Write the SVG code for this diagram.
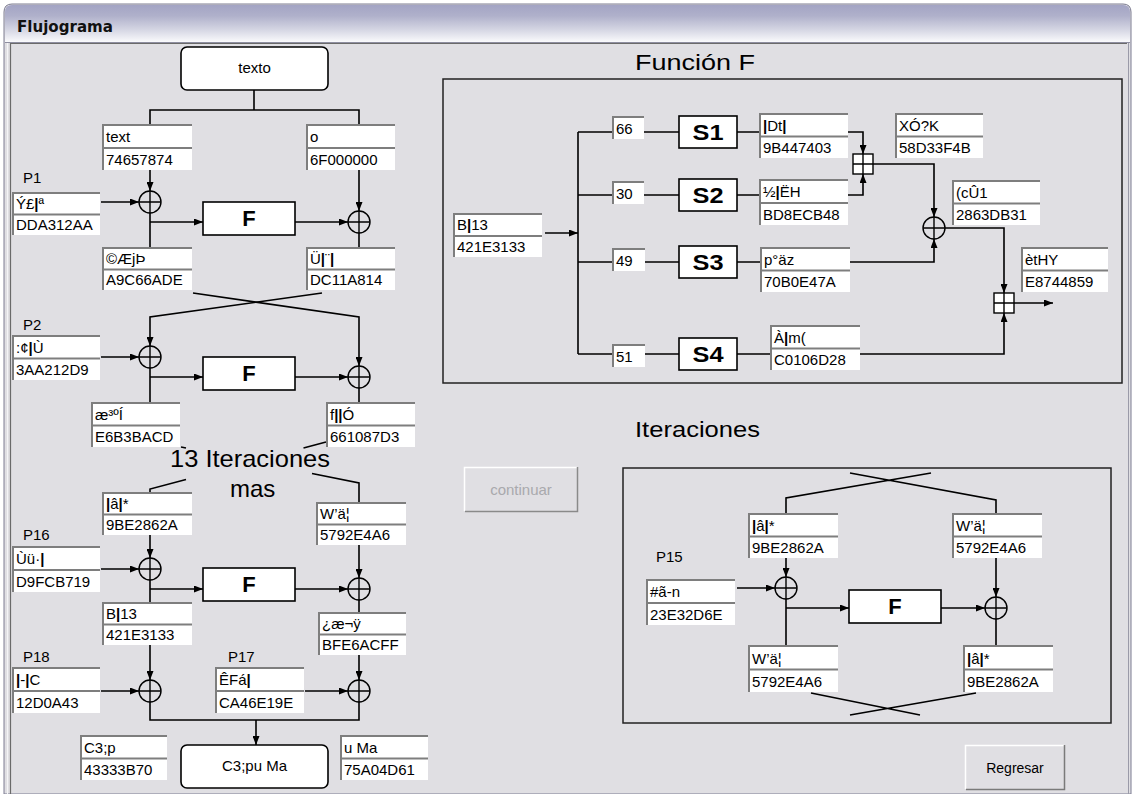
<svg xmlns="http://www.w3.org/2000/svg" width="1133" height="794" viewBox="0 0 1133 794">
<defs>
<style>
.t{font-family:"Liberation Sans",Arial,sans-serif;font-size:15px;fill:#000}
.k{font-weight:bold}
.big{font-family:"Liberation Sans",Arial,sans-serif;font-size:22px;fill:#000}
.fb{font-family:"Liberation Sans",Arial,sans-serif;font-size:22px;font-weight:bold;fill:#000;text-anchor:middle}
.mid{text-anchor:middle}
.tb{fill:#fff}
.tbe{fill:none;stroke:#7e7e7e;stroke-width:2}
.box{fill:#fff;stroke:#000;stroke-width:1.6}
.ln{fill:none;stroke:#000;stroke-width:1.6}
.a{marker-end:url(#ah)}
.pnl{fill:none;stroke:#222;stroke-width:1.5}
.sym{fill:none;stroke:#000;stroke-width:1.4}
</style>
<linearGradient id="tg" x1="0" y1="0" x2="0" y2="1">
<stop offset="0" stop-color="#a3a4c4"/>
<stop offset="0.3" stop-color="#b0b1cb"/>
<stop offset="0.65" stop-color="#d3d4e2"/>
<stop offset="1" stop-color="#fafafc"/>
</linearGradient>
<marker id="ah" viewBox="0 0 9 7" refX="9" refY="3.5" markerWidth="9" markerHeight="7" markerUnits="userSpaceOnUse" orient="auto">
<path d="M0,0L9,3.5L0,7z" fill="#000"/>
</marker>
<g id="xor"><circle r="11" fill="none" stroke="#000" stroke-width="1.4"/><path d="M-11,0H11M0,-11V11" stroke="#000" stroke-width="1.4"/></g>
<g id="add"><rect x="-10" y="-10" width="20" height="20" fill="#fff" stroke="#000" stroke-width="1.4"/><path d="M-10,0H10M0,-10V10" stroke="#000" stroke-width="1.4"/></g>
</defs>

<!-- window -->
<g id="window">
<rect x="0" y="0" width="1133" height="794" fill="#ffffff"/>
<path d="M4,794V12Q4,4 12,4H1123Q1131,4 1131,12V794Z" fill="#e0dfe3" stroke="#7d7d92" stroke-width="1"/>
<path d="M5,42V12Q5,5 12,5H1123Q1130,5 1130,12V42Z" fill="url(#tg)"/>
<path d="M5,42.5H1130" stroke="#8e8ea0" stroke-width="1"/>
<path d="M10.5,794V43.5H1127" fill="none" stroke="#6a6a6a" stroke-width="1.2"/>
<path d="M7.5,43V794" stroke="#f4f4f6" stroke-width="1"/>
<path d="M1128.5,43V794" stroke="#9a9aa8" stroke-width="1"/>
<text x="17" y="32" font-family="DejaVu Sans,Verdana,sans-serif" font-size="15" font-weight="bold" fill="#111" textLength="96" lengthAdjust="spacingAndGlyphs">Flujograma</text>
</g>

<!-- panels and titles -->
<g id="funcionF-panel">
<text class="big" x="635" y="70" textLength="120" lengthAdjust="spacingAndGlyphs">Función F</text>
<rect class="pnl" x="443" y="79" width="679" height="304"/>
</g>
<g id="iteraciones-panel">
<text class="big" x="635" y="437" textLength="125" lengthAdjust="spacingAndGlyphs">Iteraciones</text>
<rect class="pnl" x="623" y="468" width="488" height="255"/>
</g>

<!-- connectors -->
<g id="connectors">
<path class="ln" d="M254,90V110M150,124V110H359V124"/>
<path class="ln a" d="M150,170V191"/>
<path class="ln a" d="M101,202H139"/>
<path class="ln a" d="M150,222H203"/>
<path class="ln a" d="M295,222H348"/>
<path class="ln a" d="M359,170V211"/>
<path class="ln" d="M150,213V247M359,233V247"/>
<path class="ln a" d="M193,293L359,317V366"/>
<path class="ln a" d="M322,293L150,317V346"/>
<path class="ln a" d="M101,357H139"/>
<path class="ln" d="M150,368V402M359,388V402"/>
<path class="ln a" d="M150,377H203"/>
<path class="ln a" d="M295,377H348"/>
<path class="ln" d="M181,447L186,448M312,473.5L359,483V502M326,442L303.5,448M186,479.4L150,489V492"/>
<path class="ln a" d="M150,535V558"/>
<path class="ln a" d="M101,569H139"/>
<path class="ln" d="M150,580V602M359,600V612"/>
<path class="ln a" d="M150,589H203"/>
<path class="ln a" d="M295,589H348"/>
<path class="ln a" d="M359,545V578"/>
<path class="ln a" d="M150,645V680"/>
<path class="ln a" d="M101,691H139"/>
<path class="ln a" d="M359,655V680"/>
<path class="ln a" d="M305,691H348"/>
<path class="ln" d="M150,702V720H359V702"/>
<path class="ln a" d="M256,720V745"/>

<path class="ln a" d="M545,233H578"/>
<path class="ln" d="M578,132V354M578,132H612M578,195H612M578,262H612M578,354H612"/>
<path class="ln" d="M644,132H679M737,132H759M644,195H679M737,195H759M645,262H679M737,262H760M645,354H679M737,354H770"/>
<path class="ln a" d="M848,132H863V154"/>
<path class="ln a" d="M848,195H863V174"/>
<path class="ln a" d="M873,164H934V217"/>
<path class="ln a" d="M850,262H934V239"/>
<path class="ln a" d="M945,228H1004V293"/>
<path class="ln a" d="M1014,303H1053"/>
<path class="ln a" d="M860,354H1004V313"/>

<path class="ln" d="M850,473L996,500V513M931,473L786,498V513"/>
<path class="ln a" d="M786,558V577"/>
<path class="ln a" d="M737,588H775"/>
<path class="ln" d="M786,599V645M996,619V645"/>
<path class="ln a" d="M786,608H849"/>
<path class="ln a" d="M941,608H985"/>
<path class="ln a" d="M996,558V597"/>
<path class="ln" d="M811,693L920,715M976,693L850,715"/>
</g>

<!-- operators -->
<g id="xor-ops">
<use href="#xor" x="150" y="202"/>
<use href="#xor" x="359" y="222"/>
<use href="#xor" x="150" y="357"/>
<use href="#xor" x="359" y="377"/>
<use href="#xor" x="150" y="569"/>
<use href="#xor" x="359" y="589"/>
<use href="#xor" x="150" y="691"/>
<use href="#xor" x="359" y="691"/>
<use href="#xor" x="934" y="228"/>
<use href="#xor" x="786" y="588"/>
<use href="#xor" x="996" y="608"/>
</g>
<g id="add-ops">
<use href="#add" x="863" y="164"/>
<use href="#add" x="1004" y="303"/>
</g>

<!-- main flow nodes -->
<g id="texto"><rect class="box" x="181" y="47" width="147" height="43" rx="6"/><text class="t mid" x="254.5" y="73">texto</text></g>
<g id="F1"><rect class="box" x="203" y="202" width="92" height="33"/><text class="fb" x="249" y="226">F</text></g>
<g id="F2"><rect class="box" x="203" y="357" width="92" height="33"/><text class="fb" x="249" y="381">F</text></g>
<g id="F16"><rect class="box" x="203" y="568" width="92" height="33"/><text class="fb" x="249" y="592">F</text></g>
<g id="salida"><rect class="box" x="181" y="745" width="147" height="43" rx="6"/><text class="t mid" x="254.5" y="771">C3;pu Ma</text></g>

<g id="labels-P">
<text class="t" x="23" y="183">P1</text>
<text class="t" x="23" y="330">P2</text>
<text class="t" x="23" y="540">P16</text>
<text class="t" x="23" y="662">P18</text>
<text class="t" x="228" y="662">P17</text>
<text class="t" x="656" y="562">P15</text>
</g>

<g id="iter-label">
<text x="170" y="467" font-family="Liberation Sans,Arial,sans-serif" font-size="24" textLength="160" lengthAdjust="spacingAndGlyphs">13 Iteraciones</text>
<text x="230" y="497" font-family="Liberation Sans,Arial,sans-serif" font-size="24">mas</text>
</g>

<!-- data boxes left column -->
<g id="b-text"><rect class="tb" x="102" y="124" width="90" height="46"/><path class="tbe" d="M192,125H103V170M192,148H103"/><text class="t" x="106" y="142">text</text><text class="t" x="106" y="165">74657874</text></g>
<g id="b-o"><rect class="tb" x="306" y="124" width="89" height="46"/><path class="tbe" d="M395,125H307V170M395,148H307"/><text class="t" x="310" y="142">o</text><text class="t" x="310" y="165">6F000000</text></g>
<g id="b-p1"><rect class="tb" x="12" y="192" width="88" height="43"/><path class="tbe" d="M100,193H13V235M100,214.5H13"/><text class="t" x="16" y="208.5">Ý£<tspan class="k">|</tspan>ª</text><text class="t" x="16" y="230">DDA312AA</text></g>
<g id="b-l1"><rect class="tb" x="102" y="247" width="90" height="43"/><path class="tbe" d="M192,248H103V290M192,269.5H103"/><text class="t" x="106" y="263.5">©ÆjÞ</text><text class="t" x="106" y="285">A9C66ADE</text></g>
<g id="b-r1"><rect class="tb" x="306" y="247" width="89" height="43"/><path class="tbe" d="M395,248H307V290M395,269.5H307"/><text class="t" x="310" y="263.5">Ü<tspan class="k">|</tspan>¨<tspan class="k">|</tspan></text><text class="t" x="310" y="285">DC11A814</text></g>
<g id="b-p2"><rect class="tb" x="12" y="335" width="88" height="45"/><path class="tbe" d="M100,336H13V380M100,358.5H13"/><text class="t" x="16" y="352.5">:¢<tspan class="k">|</tspan>Ù</text><text class="t" x="16" y="375">3AA212D9</text></g>
<g id="b-l2"><rect class="tb" x="91" y="402" width="89" height="45"/><path class="tbe" d="M180,403H92V447M180,425.5H92"/><text class="t" x="95" y="419.5">æ³ºÍ</text><text class="t" x="95" y="442">E6B3BACD</text></g>
<g id="b-r2"><rect class="tb" x="326" y="402" width="89" height="45"/><path class="tbe" d="M415,403H327V447M415,425.5H327"/><text class="t" x="330" y="419.5">f<tspan class="k">||</tspan>Ó</text><text class="t" x="330" y="442">661087D3</text></g>
<g id="b-l16"><rect class="tb" x="102" y="492" width="90" height="43"/><path class="tbe" d="M192,493H103V535M192,514.5H103"/><text class="t" x="106" y="508.5"><tspan class="k">|</tspan>â<tspan class="k">|</tspan>*</text><text class="t" x="106" y="530">9BE2862A</text></g>
<g id="b-r16"><rect class="tb" x="316" y="502" width="90" height="43"/><path class="tbe" d="M406,503H317V545M406,524.5H317"/><text class="t" x="320" y="518.5">W’ä¦</text><text class="t" x="320" y="540">5792E4A6</text></g>
<g id="b-p16"><rect class="tb" x="12" y="546" width="88" height="46"/><path class="tbe" d="M100,547H13V592M100,570H13"/><text class="t" x="16" y="564">Ùü·<tspan class="k">|</tspan></text><text class="t" x="16" y="587">D9FCB719</text></g>
<g id="b-l17"><rect class="tb" x="102" y="602" width="90" height="43"/><path class="tbe" d="M192,603H103V645M192,624.5H103"/><text class="t" x="106" y="618.5">B<tspan class="k">|</tspan>13</text><text class="t" x="106" y="640">421E3133</text></g>
<g id="b-r17"><rect class="tb" x="318" y="612" width="88" height="43"/><path class="tbe" d="M406,613H319V655M406,634.5H319"/><text class="t" x="322" y="628.5">¿æ¬ÿ</text><text class="t" x="322" y="650">BFE6ACFF</text></g>
<g id="b-p18"><rect class="tb" x="12" y="667" width="88" height="46"/><path class="tbe" d="M100,668H13V713M100,691H13"/><text class="t" x="16" y="685"><tspan class="k">|</tspan>-<tspan class="k">|</tspan>C</text><text class="t" x="16" y="708">12D0A43</text></g>
<g id="b-p17"><rect class="tb" x="215" y="667" width="89" height="46"/><path class="tbe" d="M304,668H216V713M304,691H216"/><text class="t" x="219" y="685">ÊFá<tspan class="k">|</tspan></text><text class="t" x="219" y="708">CA46E19E</text></g>
<g id="b-c3p"><rect class="tb" x="80" y="735" width="87" height="45"/><path class="tbe" d="M167,736H81V780M167,758.5H81"/><text class="t" x="84" y="752.5">C3;p</text><text class="t" x="84" y="775">43333B70</text></g>
<g id="b-uma"><rect class="tb" x="340" y="735" width="88" height="45"/><path class="tbe" d="M428,736H341V780M428,758.5H341"/><text class="t" x="344" y="752.5">u Ma</text><text class="t" x="344" y="775">75A04D61</text></g>

<!-- Funcion F nodes -->
<g id="f-in"><rect class="tb" x="453" y="213" width="89" height="44"/><path class="tbe" d="M542,214H454V257M542,236H454"/><text class="t" x="457" y="230">B<tspan class="k">|</tspan>13</text><text class="t" x="457" y="252">421E3133</text></g>
<g id="n66"><rect class="tb" x="612" y="116" width="32" height="23"/><path class="tbe" d="M644,117H613V139"/><text class="t" x="616" y="134">66</text></g>
<g id="n30"><rect class="tb" x="612" y="181" width="32" height="23"/><path class="tbe" d="M644,182H613V204"/><text class="t" x="616" y="199">30</text></g>
<g id="n49"><rect class="tb" x="612" y="248" width="33" height="23"/><path class="tbe" d="M645,249H613V271"/><text class="t" x="616" y="266">49</text></g>
<g id="n51"><rect class="tb" x="612" y="344" width="33" height="23"/><path class="tbe" d="M645,345H613V367"/><text class="t" x="616" y="362">51</text></g>
<g id="S1"><rect class="box" x="679" y="116" width="58" height="32"/><text class="fb" x="708" y="140" textLength="31" lengthAdjust="spacingAndGlyphs">S1</text></g>
<g id="S2"><rect class="box" x="679" y="179" width="58" height="32"/><text class="fb" x="708" y="203" textLength="31" lengthAdjust="spacingAndGlyphs">S2</text></g>
<g id="S3"><rect class="box" x="679" y="246" width="58" height="32"/><text class="fb" x="708" y="270" textLength="31" lengthAdjust="spacingAndGlyphs">S3</text></g>
<g id="S4"><rect class="box" x="679" y="338" width="58" height="32"/><text class="fb" x="708" y="362" textLength="31" lengthAdjust="spacingAndGlyphs">S4</text></g>
<g id="o1"><rect class="tb" x="759" y="113" width="89" height="45"/><path class="tbe" d="M848,114H760V158M848,136.5H760"/><text class="t" x="763" y="130.5"><tspan class="k">|</tspan>Dt<tspan class="k">|</tspan></text><text class="t" x="763" y="153">9B447403</text></g>
<g id="o2"><rect class="tb" x="759" y="179" width="89" height="46"/><path class="tbe" d="M848,180H760V225M848,203H760"/><text class="t" x="763" y="197">½<tspan class="k">|</tspan>ËH</text><text class="t" x="763" y="220">BD8ECB48</text></g>
<g id="o3"><rect class="tb" x="760" y="247" width="90" height="45"/><path class="tbe" d="M850,248H761V292M850,270.5H761"/><text class="t" x="764" y="264.5">p°äz</text><text class="t" x="764" y="287">70B0E47A</text></g>
<g id="o4"><rect class="tb" x="770" y="325" width="90" height="45"/><path class="tbe" d="M860,326H771V370M860,348.5H771"/><text class="t" x="774" y="342.5">À<tspan class="k">|</tspan>m(</text><text class="t" x="774" y="365">C0106D28</text></g>
<g id="xk"><rect class="tb" x="895" y="113" width="88" height="45"/><path class="tbe" d="M983,114H896V158M983,136.5H896"/><text class="t" x="899" y="130.5">XÓ?K</text><text class="t" x="899" y="153">58D33F4B</text></g>
<g id="c01"><rect class="tb" x="952" y="180" width="88" height="45"/><path class="tbe" d="M1040,181H953V225M1040,203.5H953"/><text class="t" x="956" y="197.5">(cÛ1</text><text class="t" x="956" y="220">2863DB31</text></g>
<g id="ethy"><rect class="tb" x="1021" y="247" width="87" height="45"/><path class="tbe" d="M1108,248H1022V292M1108,270.5H1022"/><text class="t" x="1025" y="264.5">ètHY</text><text class="t" x="1025" y="287">E8744859</text></g>

<!-- Iteraciones nodes -->
<g id="i-l"><rect class="tb" x="748" y="513" width="90" height="45"/><path class="tbe" d="M838,514H749V558M838,536.5H749"/><text class="t" x="752" y="530.5"><tspan class="k">|</tspan>â<tspan class="k">|</tspan>*</text><text class="t" x="752" y="553">9BE2862A</text></g>
<g id="i-r"><rect class="tb" x="952" y="513" width="90" height="45"/><path class="tbe" d="M1042,514H953V558M1042,536.5H953"/><text class="t" x="956" y="530.5">W’ä¦</text><text class="t" x="956" y="553">5792E4A6</text></g>
<g id="i-p15"><rect class="tb" x="646" y="579" width="89" height="46"/><path class="tbe" d="M735,580H647V625M735,603H647"/><text class="t" x="650" y="597">#ã-n</text><text class="t" x="650" y="620">23E32D6E</text></g>
<g id="i-F"><rect class="box" x="849" y="590" width="92" height="33"/><text class="fb" x="895" y="614">F</text></g>
<g id="i-bl"><rect class="tb" x="748" y="645" width="90" height="47"/><path class="tbe" d="M838,646H749V692M838,669.5H749"/><text class="t" x="752" y="663.5">W’ä¦</text><text class="t" x="752" y="687">5792E4A6</text></g>
<g id="i-br"><rect class="tb" x="963" y="645" width="90" height="47"/><path class="tbe" d="M1053,646H964V692M1053,669.5H964"/><text class="t" x="967" y="663.5"><tspan class="k">|</tspan>â<tspan class="k">|</tspan>*</text><text class="t" x="967" y="687">9BE2862A</text></g>

<!-- buttons -->
<g id="btn-continuar">
<rect x="464" y="467" width="114" height="45" fill="#e0dfe3"/>
<path d="M464.5,511V467.5H577" fill="none" stroke="#ffffff" stroke-width="1.5"/>
<path d="M465,511.5H577.5V467" fill="none" stroke="#8a8a8a" stroke-width="1.5"/>
<text class="t mid" x="521" y="495" fill="#a9a9ad" style="fill:#a9a9ad">continuar</text>
</g>
<g id="btn-regresar">
<rect x="965" y="745" width="100" height="45" fill="#e0dfe3"/>
<path d="M965.5,789V745.5H1064" fill="none" stroke="#ffffff" stroke-width="1.5"/>
<path d="M966,789.5H1064.5V745" fill="none" stroke="#7a7a7a" stroke-width="1.5"/>
<text class="t mid" x="1015" y="773" style="font-size:14px">Regresar</text>
</g>
</svg>
